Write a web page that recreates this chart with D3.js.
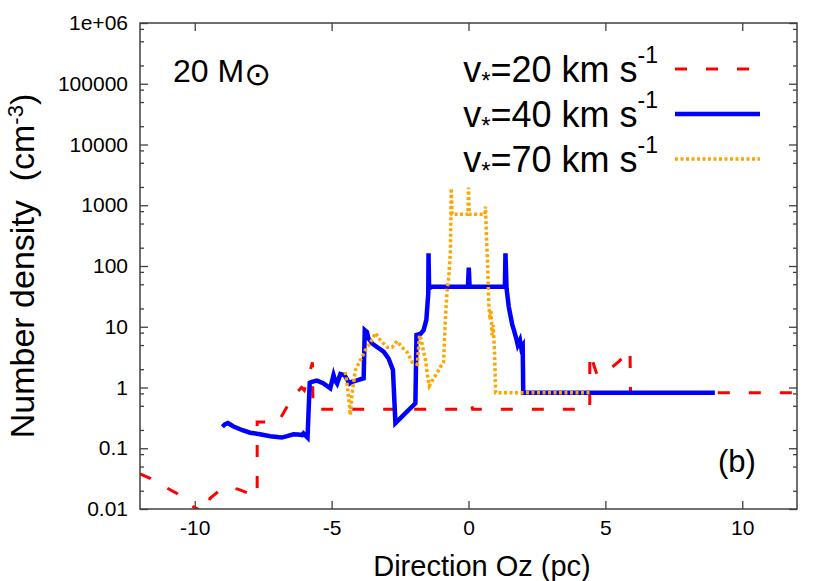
<!DOCTYPE html>
<html>
<head>
<meta charset="utf-8">
<script src="https://cdn.jsdelivr.net/npm/d3@7"></script>
<style>
  html, body { margin: 0; padding: 0; background: #fff; }
  svg { display: block; font-family: "Liberation Sans", Arial, sans-serif; }
  text { white-space: pre; }
</style>
</head>
<body>
<div id="chart"></div>
<script>
const width = 830;
const height = 581;
const margin = { top: 23, right: 33, bottom: 72, left: 140 };

// x ticks (pc)
const xTicks = [-10, -5, 0, 5, 10];
const xTickLabels = ["-10", "-5", "0", "5", "10"];
// y ticks (cm^-3)
const yTicks = [0.01, 0.1, 1, 10, 100, 1000, 10000, 100000, 1000000];
const yTickLabels = ["0.01", "0.1", "1", "10", "100", "1000", "10000", "100000", "1e+06"];

// v* = 20 km/s  [z (pc), n (cm^-3)]
const v20 = [
  [-12, 0.038], [-11.63, 0.032], [-11.0, 0.022], [-10.65, 0.018], [-10.17, 0.0116],
  [-9.9, 0.0100], [-9.7, 0.008], [-9.55, 0.009], [-9.5, 0.013], [-9.44, 0.015],
  [-9.07, 0.0206], [-8.71, 0.023], [-8.4, 0.021], [-8.05, 0.0183], [-7.72, 0.0163],
  [-7.72, 0.27], [-6.95, 0.27], [-6.55, 0.556], [-6.26, 0.84], [-6.1, 1.0],
  [-6.0, 0.9], [-5.85, 1.5], [-5.7, 2.6], [-5.68, 0.44], [-0.2, 0.44],
  [-0.12, 0.52], [0.05, 0.54], [0.12, 0.5], [0.15, 0.44], [4.43, 0.44],
  [4.43, 3.7], [4.7, 1.6], [5.1, 1.9], [5.5, 2.7], [5.9, 4.2],
  [5.92, 0.82], [12, 0.82]
];

// v* = 40 km/s
const v40 = [
  [-8.99, 0.226], [-8.89, 0.25], [-8.79, 0.26], [-8.6, 0.23], [-8.28, 0.2],
  [-7.98, 0.18], [-7.67, 0.172], [-7.24, 0.158], [-6.82, 0.15], [-6.63, 0.158],
  [-6.39, 0.17], [-6.22, 0.168], [-6.08, 0.165], [-6.03, 0.176], [-5.88, 0.15],
  [-5.8, 1.2], [-5.72, 1.24], [-5.54, 1.3], [-5.31, 1.18], [-5.05, 0.97],
  [-4.93, 1.6], [-4.87, 1.3], [-4.8, 1.16], [-4.68, 1.67], [-4.53, 1.6],
  [-4.35, 1.16], [-4.26, 1.24], [-4.1, 1.3], [-3.83, 1.42], [-3.79, 8.8],
  [-3.71, 8.2], [-3.66, 6.5], [-3.52, 5.3], [-3.33, 4.6], [-3.1, 3.9],
  [-2.92, 3.0], [-2.76, 1.94], [-2.67, 0.26], [-1.94, 0.55], [-1.9, 7.3],
  [-1.76, 7.6], [-1.64, 8.8], [-1.54, 13], [-1.47, 35], [-1.46, 162],
  [-1.44, 43], [-1.33, 45.7], [-0.02, 45.7], [0.01, 94], [0.04, 45.7],
  [1.33, 45.7], [1.35, 162], [1.39, 43], [1.47, 21.5], [1.6, 10.7],
  [1.66, 8.8], [1.76, 6.0], [1.8, 5.0], [1.88, 6.0], [1.93, 4.4],
  [1.98, 4.8], [2.0, 0.82], [9.0, 0.82]
];

// v* = 70 km/s
const v70 = [
  [-4.5, 1.8], [-4.43, 1.1], [-4.39, 0.75], [-4.35, 0.52], [-4.32, 0.35],
  [-4.26, 0.75], [-4.21, 1.1], [-4.13, 1.94], [-3.95, 2.8], [-3.77, 4.1],
  [-3.59, 5.4], [-3.4, 7.9], [-3.22, 6.0], [-2.97, 4.6], [-2.79, 4.6],
  [-2.61, 5.8], [-2.43, 4.6], [-2.24, 3.8], [-2.05, 2.6], [-1.87, 2.4],
  [-1.79, 7.3], [-1.72, 6.0], [-1.65, 4.1], [-1.57, 2.8], [-1.5, 1.6],
  [-1.43, 1.06], [-1.28, 1.4], [-1.13, 1.8], [-1.02, 2.2], [-0.91, 2.6],
  [-0.84, 14.7], [-0.78, 40], [-0.72, 66], [-0.66, 180], [-0.63, 1900],
  [-0.6, 710], [-0.02, 710], [0.0, 1950], [0.03, 710], [0.6, 710],
  [0.62, 950], [0.66, 280], [0.7, 100], [0.74, 24], [0.79, 13],
  [0.82, 19], [0.86, 7.3], [0.9, 10.6], [0.95, 4.1], [0.99, 0.82],
  [4.43, 0.82]
];

const series = [
  { label: "20", data: v20, color: "#ff0000", width: 3, dash: "12,19" },
  { label: "40", data: v40, color: "#0000ff", width: 4.5, dash: null },
  { label: "70", data: v70, color: "#ffa500", width: 3.5, dash: "3,2.5" }
];

const svg = d3.select('#chart')
  .append('svg')
  .attr('width', width)
  .attr('height', height)

const x = d3.scaleLinear()
  .domain([-12, 12])
  .range([margin.left, width - margin.right])

const y = d3.scaleLog()
  .domain([0.01, 1e6])
  .range([height - margin.bottom, margin.top])

// minor ticks at 2, 5, 8 of each decade
const yMinor = [];
for (let k = -2; k < 6; k++) [2, 5, 8].forEach(m => yMinor.push(m * Math.pow(10, k)));

const frameColor = '#404040';
const x0 = margin.left, x1 = width - margin.right;
const y0 = height - margin.bottom, y1 = margin.top;

function styleAxis(g) {
  g.select('.domain').remove();
  g.selectAll('line').attr('stroke', frameColor).attr('stroke-width', 1.3);
  g.selectAll('text').attr('fill', '#000').style('font-size', '21px')
    .style('font-family', '"Liberation Sans", Arial, sans-serif');
}

svg.append('g')
  .attr('transform', `translate(0, ${y0})`)
  .call(d3.axisBottom(x).tickValues(xTicks).tickFormat((d, i) => xTickLabels[i]).tickSize(-8).tickSizeOuter(0).tickPadding(11))
  .call(styleAxis)

svg.append('g')
  .attr('transform', `translate(0, ${y1})`)
  .call(d3.axisTop(x).tickValues(xTicks).tickFormat('').tickSize(-8).tickSizeOuter(0))
  .call(styleAxis)

svg.append('g')
  .attr('transform', `translate(${x0}, 0)`)
  .call(d3.axisLeft(y).tickValues(yTicks).tickFormat((d, i) => yTickLabels[i]).tickSize(-8).tickSizeOuter(0).tickPadding(12))
  .call(styleAxis)

svg.append('g')
  .attr('transform', `translate(${x0}, 0)`)
  .call(d3.axisLeft(y).tickValues(yMinor).tickFormat('').tickSize(-4).tickSizeOuter(0))
  .call(styleAxis)

svg.append('g')
  .attr('transform', `translate(${x1}, 0)`)
  .call(d3.axisRight(y).tickValues(yTicks).tickFormat('').tickSize(-8).tickSizeOuter(0))
  .call(styleAxis)

svg.append('g')
  .attr('transform', `translate(${x1}, 0)`)
  .call(d3.axisRight(y).tickValues(yMinor).tickFormat('').tickSize(-4).tickSizeOuter(0))
  .call(styleAxis)

svg.append('clipPath')
  .attr('id', 'plot-clip')
  .append('rect')
  .attr('x', x0).attr('y', y1)
  .attr('width', x1 - x0).attr('height', y0 - y1)

const line = d3.line()
  .x(d => x(d[0]))
  .y(d => y(d[1]))

svg.append('g')
  .attr('clip-path', 'url(#plot-clip)')
  .selectAll('path')
  .data(series)
  .enter()
  .append('path')
  .attr('d', d => line(d.data))
  .attr('fill', 'none')
  .attr('stroke', d => d.color)
  .attr('stroke-width', d => d.width)
  .attr('stroke-dasharray', d => d.dash)
  .attr('stroke-linejoin', 'miter')

// frame
svg.append('rect')
  .attr('x', x0).attr('y', y1)
  .attr('width', x1 - x0).attr('height', y0 - y1)
  .attr('fill', 'none')
  .attr('stroke', frameColor)
  .attr('stroke-width', 1.5)

// legend
const legend = svg.append('g').attr('id', 'legend')
series.forEach((s, i) => {
  const ly = 69 + i * 45;
  const t = legend.append('text')
    .attr('x', 658).attr('y', ly + 13)
    .attr('text-anchor', 'end')
    .style('font-size', '36px')
  t.append('tspan').text('v')
  t.append('tspan').attr('dy', 7).style('font-size', '24px').text('*')
  t.append('tspan').attr('dy', -7).text(`=${s.label} km s`)
  t.append('tspan').attr('dy', -19).style('font-size', '23px').text('-1')
  legend.append('line')
    .attr('x1', 675).attr('x2', 760)
    .attr('y1', ly).attr('y2', ly)
    .attr('stroke', s.color)
    .attr('stroke-width', s.width)
    .attr('stroke-dasharray', s.dash)
})

// annotations
const mass = svg.append('text')
  .attr('x', 173).attr('y', 82)
  .style('font-size', '32px')
mass.append('tspan').text('20 M')
mass.append('tspan').attr('dy', 3).style('font-family', '"DejaVu Sans"').style('font-size', '32px').text('\u2299')

svg.append('text')
  .attr('x', 718).attr('y', 472)
  .style('font-size', '31px')
  .text('(b)')

// axis titles
svg.append('text')
  .attr('x', 482).attr('y', 576)
  .attr('text-anchor', 'middle')
  .style('font-size', '29px')
  .text('Direction Oz (pc)')

const yl = svg.append('text')
  .attr('transform', 'translate(34, 266) rotate(-90)')
  .attr('text-anchor', 'middle')
  .style('font-size', '34px')
yl.append('tspan').text('Number density  (cm')
yl.append('tspan').attr('dy', -11).style('font-size', '22px').text('-3')
yl.append('tspan').attr('dy', 11).text(')')
</script>
</body>
</html>
